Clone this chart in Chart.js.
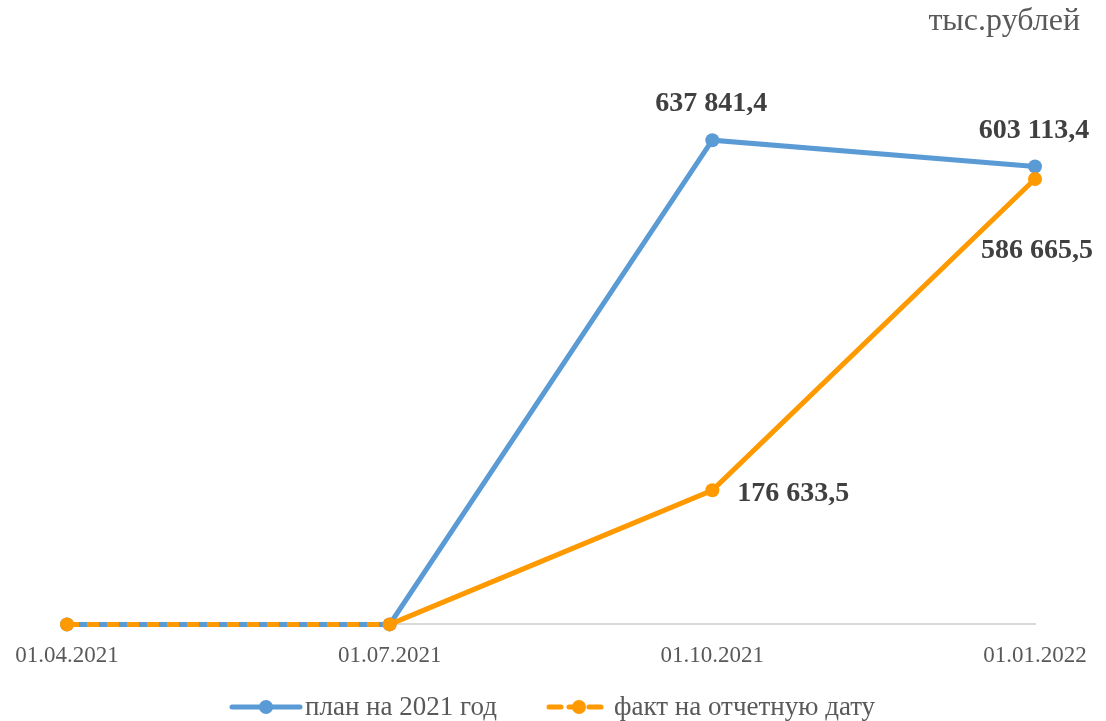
<!DOCTYPE html>
<html>
<head>
<meta charset="utf-8">
<script src="https://cdn.jsdelivr.net/npm/chart.js@4/dist/chart.umd.min.js"></script>
<style>
  html, body { margin: 0; padding: 0; background: #fff; }
  #wrap { width: 1106px; height: 721px; position: relative; }
</style>
</head>
<body>
<div id="wrap"><canvas id="c" width="1106" height="721"></canvas></div>
<script>
// данные графика
const dates = ['01.04.2021', '01.07.2021', '01.10.2021', '01.01.2022'];
const planValues = [0, 0, 637841.4, 603113.4];
const factValues = [0, 0, 176633.5, 586665.5];
const seriesNames = ['план на 2021 год', 'факт на отчетную дату'];
const unitLabel = 'тыс.рублей';

const BLUE = '#5B9BD5';
const ORANGE = '#FF9900';
const SERIF = '"Liberation Serif", "Times New Roman", serif';

const fmt = (v) => {
    const [i, d] = v.toFixed(1).split('.');
    return i.replace(/\B(?=(\d{3})+(?!\d))/g, ' ') + ',' + d;
};

// подписи значений (положение относительно точки)
const labelPos = [
    [null, null, 'above', 'above'],
    [null, null, 'right', 'below']
];

const valueLabels = {
    id: 'valueLabels',
    afterDatasetsDraw(chart) {
        const ctx = chart.ctx;
        ctx.save();
        ctx.font = 'bold 28px ' + SERIF;
        ctx.fillStyle = '#404040';
        chart.data.datasets.forEach((ds, di) => {
            const meta = chart.getDatasetMeta(di);
            meta.data.forEach((pt, i) => {
                const pos = labelPos[di][i];
                if (!pos) return;
                const txt = fmt(ds.data[i]);
                if (pos === 'above') {
                    ctx.textAlign = 'center'; ctx.textBaseline = 'middle';
                    ctx.fillText(txt, pt.x - 1, pt.y - 36);
                } else if (pos === 'right') {
                    ctx.textAlign = 'left'; ctx.textBaseline = 'middle';
                    ctx.fillText(txt, pt.x + 25, pt.y + 3);
                } else {
                    ctx.textAlign = 'center'; ctx.textBaseline = 'middle';
                    ctx.fillText(txt, pt.x + 2, pt.y + 72);
                }
            });
        });
        // единицы измерения
        ctx.font = '32px ' + SERIF;
        ctx.fillStyle = '#595959';
        ctx.textAlign = 'right'; ctx.textBaseline = 'middle';
        ctx.fillText(unitLabel, 1080, 22);
        ctx.restore();
    }
};

// легенда снизу как в Excel: линия + маркер
const bottomLegend = {
    id: 'bottomLegend',
    afterDraw(chart) {
        const ctx = chart.ctx;
        const y = 707;
        const items = [
            { x: 232, w: 68, color: BLUE, dash: [], text: seriesNames[0] },
            { x: 549, w: 60, color: ORANGE, dash: [12, 8], text: seriesNames[1] }
        ];
        ctx.save();
        items.forEach(it => {
            ctx.strokeStyle = it.color;
            ctx.lineWidth = 5;
            ctx.lineCap = 'round';
            ctx.setLineDash(it.dash);
            ctx.beginPath();
            ctx.moveTo(it.x, y); ctx.lineTo(it.x + it.w, y);
            ctx.stroke();
            ctx.setLineDash([]);
            ctx.fillStyle = it.color;
            ctx.beginPath();
            ctx.arc(it.x + it.w / 2, y, 7, 0, Math.PI * 2);
            ctx.fill();
            ctx.font = '27px ' + SERIF;
            ctx.fillStyle = '#595959';
            ctx.textAlign = 'left'; ctx.textBaseline = 'middle';
            ctx.fillText(it.text, it.x + it.w + 5, y + 1);
        });
        ctx.restore();
    }
};

new Chart(document.getElementById('c'), {
    type: 'line',
    data: {
        labels: dates,
        datasets: [
            {
                label: seriesNames[0],
                data: planValues,
                borderColor: BLUE,
                backgroundColor: BLUE,
                borderWidth: 5,
                pointRadius: 7,
                pointBackgroundColor: BLUE,
                pointBorderWidth: 0,
                tension: 0,
                clip: false,
                order: 1
            },
            {
                label: seriesNames[1],
                data: factValues,
                borderColor: ORANGE,
                backgroundColor: ORANGE,
                borderWidth: 5,
                borderDash: [12, 8],
                pointRadius: 7,
                pointBackgroundColor: ORANGE,
                pointBorderWidth: 0,
                tension: 0,
                clip: false,
                order: 0,
                segment: {
                    borderDash: c => c.p0DataIndex === 0 ? [12, 8] : []
                }
            }
        ]
    },
    options: {
        responsive: false,
        animation: false,
        layout: { padding: { left: 67, right: 71, top: 93, bottom: 33 } },
        plugins: { legend: { display: false }, tooltip: { enabled: false } },
        scales: {
            x: {
                offset: false,
                grid: { display: false, drawTicks: false },
                border: { display: true, color: '#d9d9d9', width: 2 },
                ticks: { color: '#595959', font: { family: SERIF, size: 23 }, padding: 18, maxRotation: 0 },
                afterFit: (s) => { s.paddingLeft = 0; s.paddingRight = 0; }
            },
            y: {
                display: false,
                min: 0,
                max: 700000
            }
        }
    },
    plugins: [valueLabels, bottomLegend]
});
</script>
</body>
</html>
